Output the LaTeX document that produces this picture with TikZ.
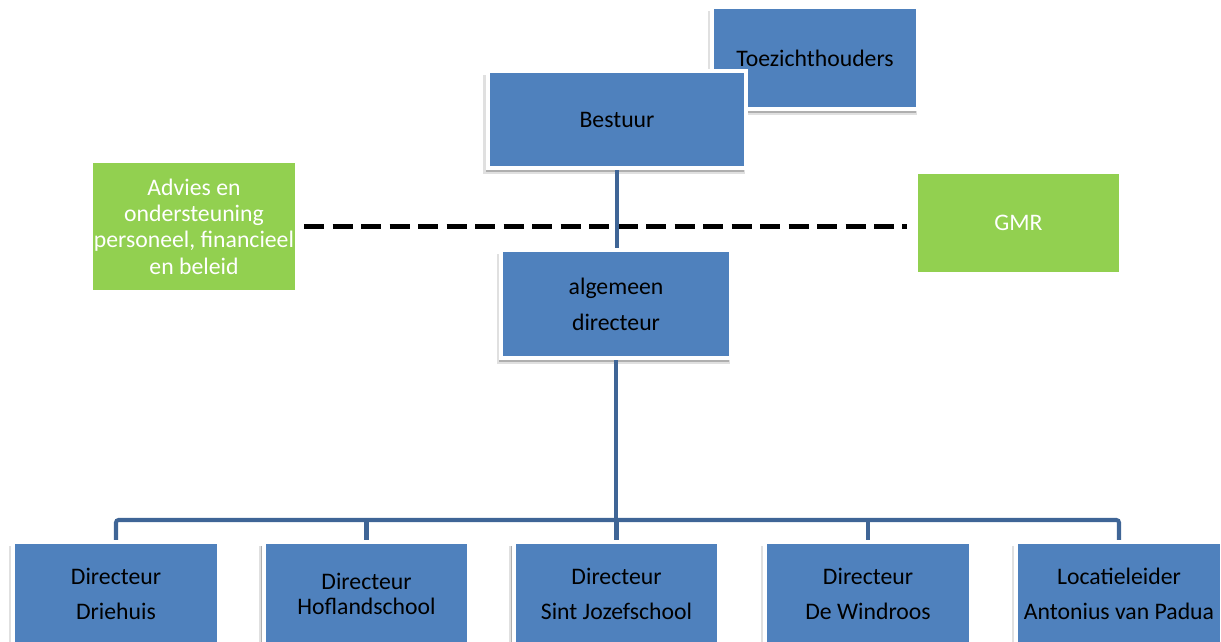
\documentclass[tikz,border=0pt]{standalone}
\usepackage{fontspec}
\setmainfont{Carlito}
\usepackage{tikz}
\usetikzlibrary{shadows}
\definecolor{boxblue}{HTML}{4F81BD}
\definecolor{boxgreen}{HTML}{92D050}
\definecolor{linkblue}{HTML}{3F6596}
\tikzset{
    orgbox/.style={draw=white, line width=2.3pt, fill=boxblue, text=black, align=center, inner sep=0pt,
        font=\fontsize{13.5}{15}\selectfont,
        general shadow={shadow xshift=-1.5pt, shadow yshift=-2.8pt, shadow scale=1.015, fill=black, opacity=0.12},
        general shadow={shadow xshift=-1.2pt, shadow yshift=-2.2pt, fill=black, opacity=0.22}},
    advbox/.style={fill=boxgreen, text=white, align=center, inner sep=0pt, font=\fontsize{13.5}{15}\selectfont},
    orglink/.style={draw=linkblue, line width=2.3pt, rounded corners=1.5pt},
    advlink/.style={draw=black, line width=2.8pt, dash pattern=on 0.4cm off 0.17cm}
}
\begin{document}
\begin{tikzpicture}[x=0.02cm, y=-0.02cm]
                    \useasboundingbox (0,0) rectangle (1221,642);
                    \clip (0,0) rectangle (1221,642);
                    \node (toez) [orgbox, minimum width=4.12cm, minimum height=2.04cm] at (815,58) {Toezichthouders};
                    \node (best) [orgbox, minimum width=5.16cm, minimum height=1.94cm] at (617,119.5) {Bestuur};
                    \node (advies) [advbox, minimum width=4.04cm, minimum height=2.54cm] at (194,226.5) {Advies en\\ondersteuning\\personeel, financieel\\en beleid};
                    \node (gmr) [advbox, minimum width=4.02cm, minimum height=1.96cm] at (1018.5,223) {GMR};
                    
                    \draw[advlink] ([xshift=5pt]advies.east) -- ([xshift=-6pt]advies.east -| gmr.west);
                    \draw[orglink] (best.south) -- (best.south |- 0,248);
                    
                    \node (alg) [orgbox, minimum width=4.6cm, minimum height=2.16cm] at (616,304) {algemeen\\[5.5pt]directeur};
                    
                    \foreach \T/\X [count=\i] in {{Directeur\\[5pt]Driehuis}/116, {Directeur\\[-1pt]Hoflandschool}/366.5, {Directeur\\[5pt]Sint Jozefschool}/616.5, {Directeur\\[5pt]De Windroos}/868, {Locatieleider\\[5pt]Antonius van Padua}/1119}
                        {\node (d\i) [orgbox, minimum width=4.12cm, minimum height=2.08cm] at (\X,594) {\T}; }
                    
                    \coordinate (bus) at (616,520);
                    \draw[orglink] (alg.south) -- (bus);
                    \draw[orglink] (d1.north) |- (bus) -| (d5.north);
                    \foreach \i in {2,3,4} {
                        \draw[orglink] (d\i.north) -- (d\i.north |- bus);
                    }
                \end{tikzpicture}
\end{document}
